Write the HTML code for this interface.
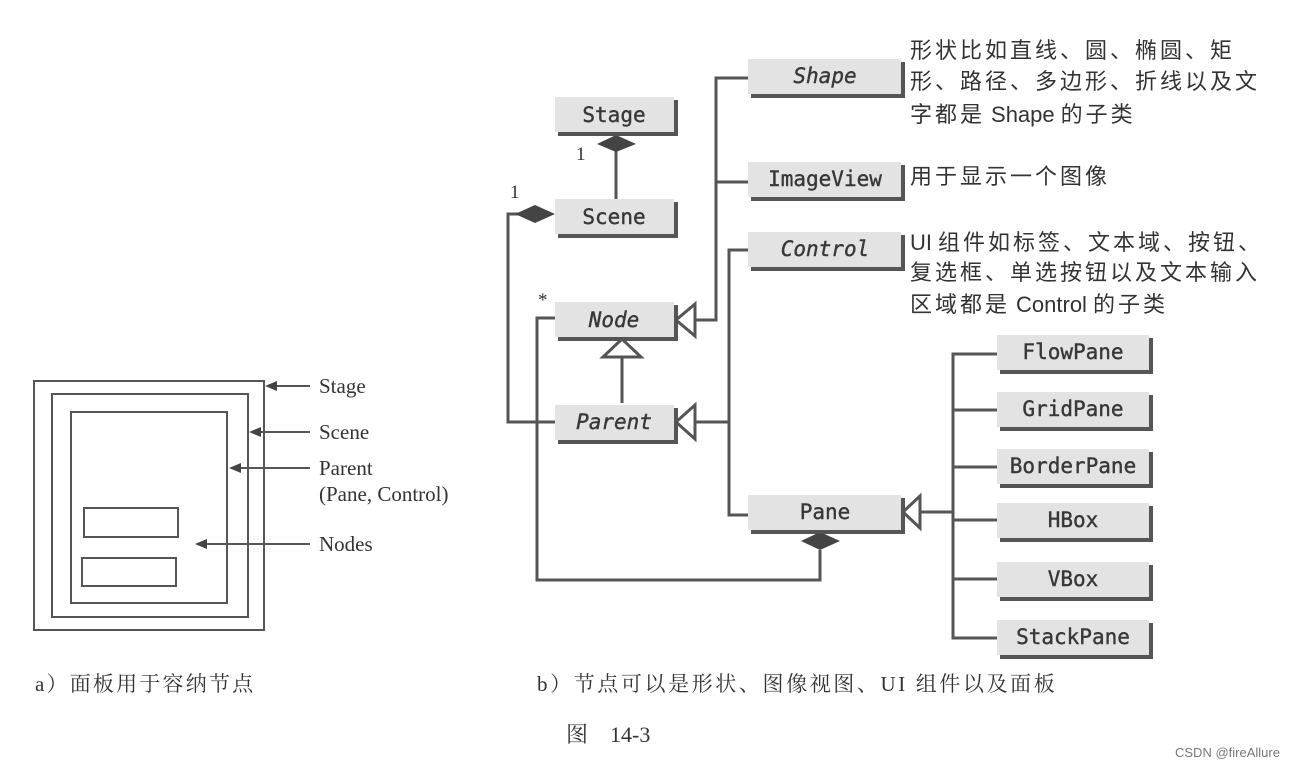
<!DOCTYPE html>
<html><head><meta charset="utf-8"><style>
html,body{margin:0;padding:0;background:#fff;}
svg{display:block}
.bx{fill:#e3e3e3;}
.sh{fill:#555;}
.t{font-family:"DejaVu Sans Mono","Liberation Mono",monospace;font-size:21px;fill:#383838;text-anchor:middle;stroke:#383838;stroke-width:0.4;}
.i{font-style:italic;}
.cn{font-family:"Liberation Sans","Noto Sans CJK SC",sans-serif;font-size:22px;fill:#333;letter-spacing:3px;}
.sr{font-family:"Liberation Serif","Noto Serif CJK SC",serif;fill:#333;}
</style></head><body>
<svg width="1312" height="768" viewBox="0 0 1312 768" xmlns="http://www.w3.org/2000/svg">
<!-- Left diagram -->
<g fill="none" stroke="#555" stroke-width="2">
<rect x="34" y="381" width="230" height="249"/>
<rect x="52" y="394" width="196" height="223"/>
<rect x="71" y="412" width="156" height="191"/>
<rect x="84" y="508" width="94" height="29"/>
<rect x="82" y="558" width="94" height="28"/>
<line x1="310" y1="386" x2="268" y2="386"/>
<line x1="310" y1="432" x2="252" y2="432"/>
<line x1="310" y1="468" x2="232" y2="468"/>
<line x1="310" y1="544" x2="198" y2="544"/>
</g>
<g fill="#444">
<path d="M265,386 l12,-5 v10z"/><path d="M249,432 l12,-5 v10z"/><path d="M229,468 l12,-5 v10z"/><path d="M195,544 l12,-5 v10z"/>
</g>
<g class="sr" font-size="21">
<text x="319" y="393">Stage</text>
<text x="319" y="439">Scene</text>
<text x="319" y="475">Parent</text>
<text x="319" y="501">(Pane, Control)</text>
<text x="319" y="551">Nodes</text>
</g>
<text x="35" y="691" class="sr" font-size="21" letter-spacing="2.2">a）面板用于容纳节点</text>

<!-- connectors -->
<g fill="none" stroke="#555" stroke-width="3">
<line x1="616" y1="150" x2="616" y2="199"/>
<polyline points="518,214 508,214 508,422 555,422"/>
<polyline points="555,318 537,318 537,580 820,580 820,550"/>
<line x1="622" y1="356" x2="622" y2="403"/>
<polyline points="748,78 716,78 716,320 695,320"/>
<line x1="716" y1="182" x2="748" y2="182"/>
<polyline points="748,250 729,250 729,515 748,515"/>
<line x1="695" y1="422" x2="729" y2="422"/>
<polyline points="997,354 953,354 953,638 997,638"/>
<line x1="953" y1="410" x2="997" y2="410"/>
<line x1="953" y1="467" x2="997" y2="467"/>
<line x1="953" y1="520" x2="997" y2="520"/>
<line x1="953" y1="579" x2="997" y2="579"/>
<line x1="920" y1="512" x2="953" y2="512"/>
</g>
<g fill="#444">
<path d="M597,144 L616,135 L636,144 L616,152 Z"/>
<path d="M515,214 L535,205 L555,214 L535,223 Z"/>
<path d="M801,541 L820,532 L840,541 L820,550 Z"/>
</g>
<g fill="#fff" stroke="#555" stroke-width="3">
<path d="M676,320 L695,304 L695,336 Z"/>
<path d="M676,422 L695,405 L695,439 Z"/>
<path d="M622,339 L641,357 L603,357 Z"/>
<path d="M903,512 L920,496 L920,528 Z"/>
</g>
<g class="sr" font-size="19">
<text x="576" y="160">1</text>
<text x="510" y="198">1</text>
<text x="538" y="306">*</text>
</g>

<!-- boxes -->
<g>
<rect class="sh" x="558" y="100" width="120" height="36"/><rect class="bx" x="555" y="97" width="119" height="35"/>
<rect class="sh" x="558" y="202" width="120" height="36"/><rect class="bx" x="555" y="199" width="119" height="35"/>
<rect class="sh" x="558" y="305" width="120" height="36"/><rect class="bx" x="555" y="302" width="119" height="35"/>
<rect class="sh" x="558" y="408" width="120" height="36"/><rect class="bx" x="555" y="405" width="119" height="35"/>
<rect class="sh" x="751" y="62" width="154" height="36"/><rect class="bx" x="748" y="59" width="153" height="35"/>
<rect class="sh" x="751" y="165" width="154" height="36"/><rect class="bx" x="748" y="162" width="153" height="35"/>
<rect class="sh" x="751" y="235" width="154" height="36"/><rect class="bx" x="748" y="232" width="153" height="35"/>
<rect class="sh" x="751" y="498" width="154" height="36"/><rect class="bx" x="748" y="495" width="153" height="35"/>
<rect class="sh" x="1000" y="338" width="153" height="36"/><rect class="bx" x="997" y="335" width="152" height="35"/>
<rect class="sh" x="1000" y="395" width="153" height="36"/><rect class="bx" x="997" y="392" width="152" height="35"/>
<rect class="sh" x="1000" y="452" width="153" height="36"/><rect class="bx" x="997" y="449" width="152" height="35"/>
<rect class="sh" x="1000" y="506" width="153" height="36"/><rect class="bx" x="997" y="503" width="152" height="35"/>
<rect class="sh" x="1000" y="565" width="153" height="36"/><rect class="bx" x="997" y="562" width="152" height="35"/>
<rect class="sh" x="1000" y="623" width="153" height="36"/><rect class="bx" x="997" y="620" width="152" height="35"/>
</g>
<g class="t">
<text x="614" y="122">Stage</text>
<text x="614" y="224">Scene</text>
<text x="614" y="327" class="i">Node</text>
<text x="614" y="429" class="i">Parent</text>
<text x="825" y="83" class="i">Shape</text>
<text x="825" y="186">ImageView</text>
<text x="825" y="256" class="i">Control</text>
<text x="825" y="519">Pane</text>
<text x="1073" y="359">FlowPane</text>
<text x="1073" y="416">GridPane</text>
<text x="1073" y="473">BorderPane</text>
<text x="1073" y="527">HBox</text>
<text x="1073" y="586">VBox</text>
<text x="1073" y="644">StackPane</text>
</g>

<g class="cn">
<text x="910" y="58">形状比如直线、圆、椭圆、矩</text>
<text x="910" y="89">形、路径、多边形、折线以及文</text>
<text x="910" y="122"><tspan>字都是</tspan><tspan letter-spacing="0" dx="6">Shape</tspan><tspan dx="6">的子类</tspan></text>
<text x="910" y="184">用于显示一个图像</text>
<text x="910" y="250"><tspan letter-spacing="0">UI</tspan><tspan dx="6">组件如标签、文本域、按钮、</tspan></text>
<text x="910" y="280">复选框、单选按钮以及文本输入</text>
<text x="910" y="312"><tspan>区域都是</tspan><tspan letter-spacing="0" dx="6">Control</tspan><tspan dx="6">的子类</tspan></text>
</g>
<text x="537" y="691" class="sr" font-size="21" letter-spacing="2.6">b）节点可以是形状、图像视图、UI 组件以及面板</text>
<text x="566" y="742" class="sr" font-size="22">图　14-3</text>
<text x="1175" y="757" font-family="Liberation Sans,sans-serif" font-size="13" fill="#777">CSDN @fireAllure</text>
</svg>
</body></html>
